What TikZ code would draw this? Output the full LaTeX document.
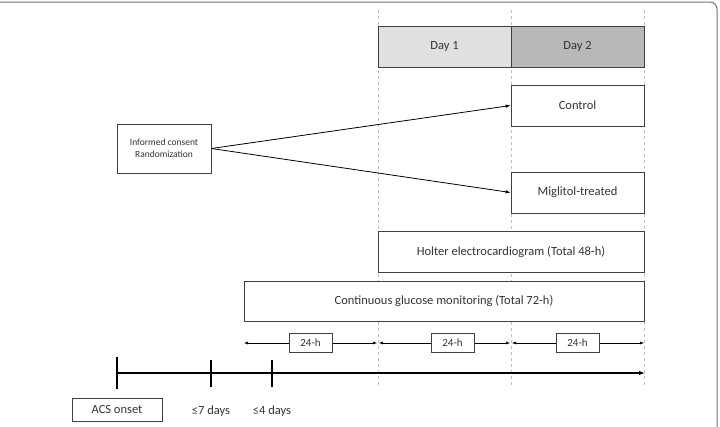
\documentclass[tikz,border=0pt]{standalone}
\usepackage{fontspec}
\setmainfont{Carlito}
\usetikzlibrary{arrows.meta}

\tikzset{
  box/.style={draw=black!75, line width=0.8pt, fill=white, inner sep=0pt,
    text=black!80, font=\fontsize{12.5}{14}\selectfont},
  daybox/.style={box, minimum width=133pt, minimum height=41pt},
  spanarrow/.style={line width=0.5pt, {Latex[length=4pt,width=3pt]}-{Latex[length=4pt,width=3pt]}},
  hourbox/.style={box, minimum width=43pt, minimum height=19pt, font=\fontsize{11}{12}\selectfont},
  guide/.style={dashed, black!25, line width=0.6pt},
}

\begin{document}
\begin{tikzpicture}[x=1pt, y=-1pt]
  \useasboundingbox (0,0) rectangle (720,426);
  % frame
  \draw[black!55, line width=1pt, rounded corners=7pt] (0,2) -- (717,2) -- (717,430);

  % day guides
  \foreach \gx in {378, 511, 644}
    \draw[guide] (\gx,10) -- (\gx,387);

  % days
  \node[daybox, fill=black!12] (day1) at (444.5,46.5) {Day 1};
  \node[daybox, fill=black!28] (day2) at (577.5,46.5) {Day 2};

  % groups
  \node[daybox] (control) at (577.5,105.5) {Control};
  \node[daybox] (miglitol) at (577.5,192.5) {Miglitol-treated};
  \node[box, minimum width=94pt, minimum height=49pt, align=center,
        font=\fontsize{9.5}{12}\selectfont] (consent) at (164,148.5)
        {Informed consent\\Randomization};
  \draw[line width=0.8pt, -{Latex[length=5pt,width=3.5pt]}] (consent.east) -- (control.west);
  \draw[line width=0.8pt, -{Latex[length=5pt,width=3.5pt]}] (consent.east) -- (miglitol.west);

  % monitoring
  \node[box, minimum width=266pt, minimum height=41pt] (holter) at (511,251.5)
    {Holter electrocardiogram (Total 48-h)};
  \node[box, minimum width=400pt, minimum height=40pt] (cgm) at (444,301)
    {Continuous glucose monitoring (Total 72-h)};

  % 24-h spans
  \coordinate (s0) at (244,343);
  \coordinate (s1) at (377,343);
  \coordinate (s2) at (379,343);
  \coordinate (s3) at (510,343);
  \coordinate (s4) at (512,343);
  \coordinate (s5) at (644,343);
  \draw[spanarrow] (s0) -- (s1);
  \draw[spanarrow] (s2) -- (s3);
  \draw[spanarrow] (s4) -- (s5);
  \node[hourbox] (h1) at (310.5,342.5) {24-h};
  \node[hourbox] (h2) at (452.5,342.5) {24-h};
  \node[hourbox] (h3) at (577.5,342.5) {24-h};

  % timeline
  \coordinate (t0) at (117,373);
  \coordinate (t1) at (645,373);
  \draw[line width=1.6pt, -{Latex[length=6pt,width=4.5pt]}] (t0) -- (t1);
  \draw[line width=1.6pt] (117,357) -- (117,389);
  \draw[line width=1.6pt] (211,360) -- (211,387);
  \draw[line width=1.6pt] (272,360) -- (272,387);

  \node[box, minimum width=90pt, minimum height=23pt] (onset) at (117,409.5) {ACS onset};
  \node[text=black!80, font=\fontsize{12.5}{14}\selectfont] (week) at (211,411) {≤7 days};
  \node[text=black!80, font=\fontsize{12.5}{14}\selectfont] (fourdays) at (272,411) {≤4 days};
\end{tikzpicture}
\end{document}
